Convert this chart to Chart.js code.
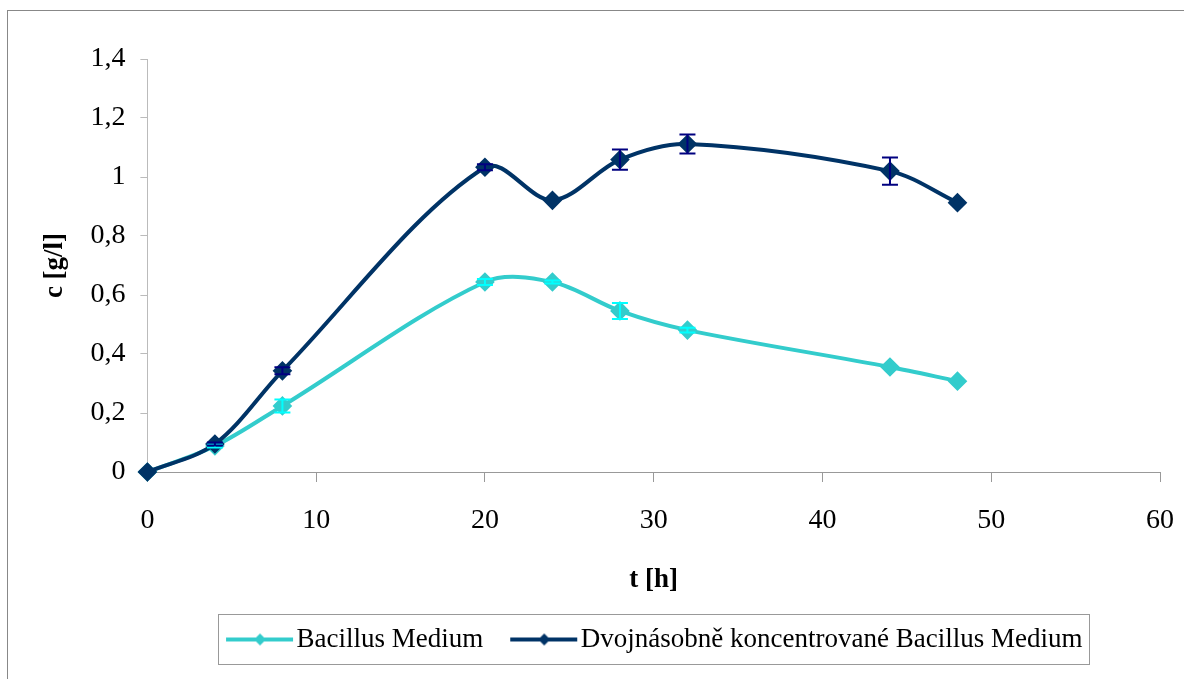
<!DOCTYPE html>
<html>
<head>
<meta charset="utf-8">
<script src="https://cdn.jsdelivr.net/npm/chart.js@4"></script>
<style>
  html, body { margin: 0; padding: 0; background: #fff; }
  #wrap { width: 1184px; height: 679px; position: relative; }
</style>
</head>
<body>
<div id="wrap"><canvas id="chart" width="1184" height="679"></canvas></div>
<script>
// time points [h]
const hours = [0, 4, 8, 20, 24, 28, 32, 44, 48];
// Bacillus Medium
const bacillus = [0, 0.088, 0.224, 0.644, 0.644, 0.546, 0.481, 0.356, 0.308];
const bacillusErr = [0, 0.005, 0.022, 0.01, 0.005, 0.027, 0.008, 0, 0];
// Dvojnásobně koncentrované Bacillus Medium
const doubled = [0, 0.095, 0.343, 1.033, 0.921, 1.059, 1.112, 1.02, 0.913];
const doubledErr = [0, 0.005, 0.012, 0.01, 0, 0.034, 0.032, 0.046, 0];

const seriesNames = ['Bacillus Medium', 'Dvojnásobně koncentrované Bacillus Medium'];
const yTicks = [0, 0.2, 0.4, 0.6, 0.8, 1, 1.2, 1.4];

const serif = "'Liberation Serif', 'Times New Roman', serif";
const lightColor = '#33CCCC';
const darkColor = '#003366';

function toPoints(xs, ys) {
    return xs.map((x, i) => ({ x: x, y: ys[i] }));
}

// legend icon: line with a diamond, shifted right so it sits close to the text
function legendIcon(color) {
    const c = document.createElement('canvas');
    c.width = 80;
    c.height = 16;
    const g = c.getContext('2d');
    g.strokeStyle = color;
    g.lineWidth = 4;
    g.beginPath();
    g.moveTo(12, 8);
    g.lineTo(79, 8);
    g.stroke();
    g.fillStyle = color;
    g.beginPath();
    g.moveTo(46, 2);
    g.lineTo(52, 8);
    g.lineTo(46, 14);
    g.lineTo(40, 8);
    g.closePath();
    g.fill();
    return c;
}

const errorBars = {
    id: 'errorBars',
    afterDatasetsDraw(chart) {
        const ctx = chart.ctx;
        const ys = chart.scales.y;
        chart.data.datasets.forEach((ds, i) => {
            const meta = chart.getDatasetMeta(i);
            ctx.save();
            ctx.strokeStyle = ds.errColor;
            ctx.lineWidth = 2;
            meta.data.forEach((pt, j) => {
                const e = ds.errors[j];
                if (!e) return;
                const v = ds.data[j].y;
                const top = ys.getPixelForValue(v + e);
                const bot = ys.getPixelForValue(v - e);
                ctx.beginPath();
                ctx.moveTo(pt.x, top);
                ctx.lineTo(pt.x, bot);
                ctx.moveTo(pt.x - 8, top);
                ctx.lineTo(pt.x + 8, top);
                ctx.moveTo(pt.x - 8, bot);
                ctx.lineTo(pt.x + 8, bot);
                ctx.stroke();
            });
            ctx.restore();
        });
    }
};

const frame = {
    id: 'frame',
    afterDraw(chart) {
        const ctx = chart.ctx;
        ctx.save();
        ctx.strokeStyle = '#888';
        ctx.lineWidth = 1;
        ctx.strokeRect(7.5, 10.5, 1190, 700);
        // legend box
        const boxes = chart.legend.legendHitBoxes;
        if (boxes && boxes.length) {
            let l = Infinity, r = -Infinity, t = Infinity, b = -Infinity;
            boxes.forEach(h => {
                l = Math.min(l, h.left);
                r = Math.max(r, h.left + h.width);
                t = Math.min(t, h.top);
                b = Math.max(b, h.top + h.height);
            });
            const cy = (t + b) / 2;
            ctx.strokeStyle = '#999';
            ctx.strokeRect(Math.round(l - 7) + 0.5, Math.round(cy - 26) + 0.5,
                Math.round(r - l + 14), 50);
        }
        ctx.restore();
    }
};

new Chart(document.getElementById('chart'), {
    type: 'scatter',
    data: {
        datasets: [{
            label: seriesNames[0],
            data: toPoints(hours, bacillus),
            errors: bacillusErr,
            errColor: '#00FFFF',
            borderColor: lightColor,
            backgroundColor: lightColor,
            showLine: true,
            tension: 0.33,
            borderWidth: 4,
            pointStyle: 'rectRot',
            pointRadius: 7,
            clip: false,
            order: 1
        }, {
            label: seriesNames[1],
            data: toPoints(hours, doubled),
            errors: doubledErr,
            errColor: '#000080',
            borderColor: darkColor,
            backgroundColor: darkColor,
            showLine: true,
            tension: 0.33,
            borderWidth: 4,
            pointStyle: 'rectRot',
            pointRadius: 7,
            clip: false,
            order: 0
        }]
    },
    options: {
        responsive: false,
        animation: false,
        layout: { padding: { left: 35, right: 14, top: 59, bottom: 16 } },
        plugins: {
            tooltip: { enabled: false },
            legend: {
                position: 'bottom',
                fullSize: false,
                labels: {
                    usePointStyle: true,
                    pointStyleWidth: 58,
                    padding: 26,
                    color: '#000',
                    font: { family: serif, size: 27 },
                    sort: (a, b) => a.datasetIndex - b.datasetIndex,
                    generateLabels(chart) {
                        const items = Chart.defaults.plugins.legend.labels.generateLabels(chart);
                        items.forEach(it => {
                            it.pointStyle = legendIcon(it.datasetIndex === 0 ? lightColor : darkColor);
                        });
                        return items;
                    }
                }
            }
        },
        scales: {
            x: {
                type: 'linear',
                min: 0,
                max: 60,
                ticks: { stepSize: 10, color: '#000', font: { family: serif, size: 28 }, padding: 10 },
                // long tick slot, but only the first 9px are drawn
                grid: { drawOnChartArea: false, drawTicks: true, tickLength: 22, tickBorderDash: [9, 60], color: '#999' },
                border: { display: true, color: '#999', width: 1 },
                title: { display: true, text: 't [h]', color: '#000', font: { family: serif, size: 27, weight: 'bold' }, padding: { top: 16, bottom: 4 } }
            },
            y: {
                min: 0,
                max: 1.4,
                afterBuildTicks(axis) {
                    axis.ticks = yTicks.map(v => ({ value: v }));
                },
                ticks: {
                    color: '#000',
                    font: { family: serif, size: 28 },
                    padding: 15,
                    callback: v => String(Math.round(v * 10) / 10).replace('.', ',')
                },
                grid: { drawOnChartArea: false, drawTicks: true, tickLength: 7, color: '#bbb' },
                border: { display: true, color: '#bbb', width: 1 },
                title: { display: true, text: 'c [g/l]', color: '#000', font: { family: serif, size: 27, weight: 'bold' }, padding: { top: 4, bottom: 4 } }
            }
        }
    },
    plugins: [errorBars, frame]
});
</script>
</body>
</html>
